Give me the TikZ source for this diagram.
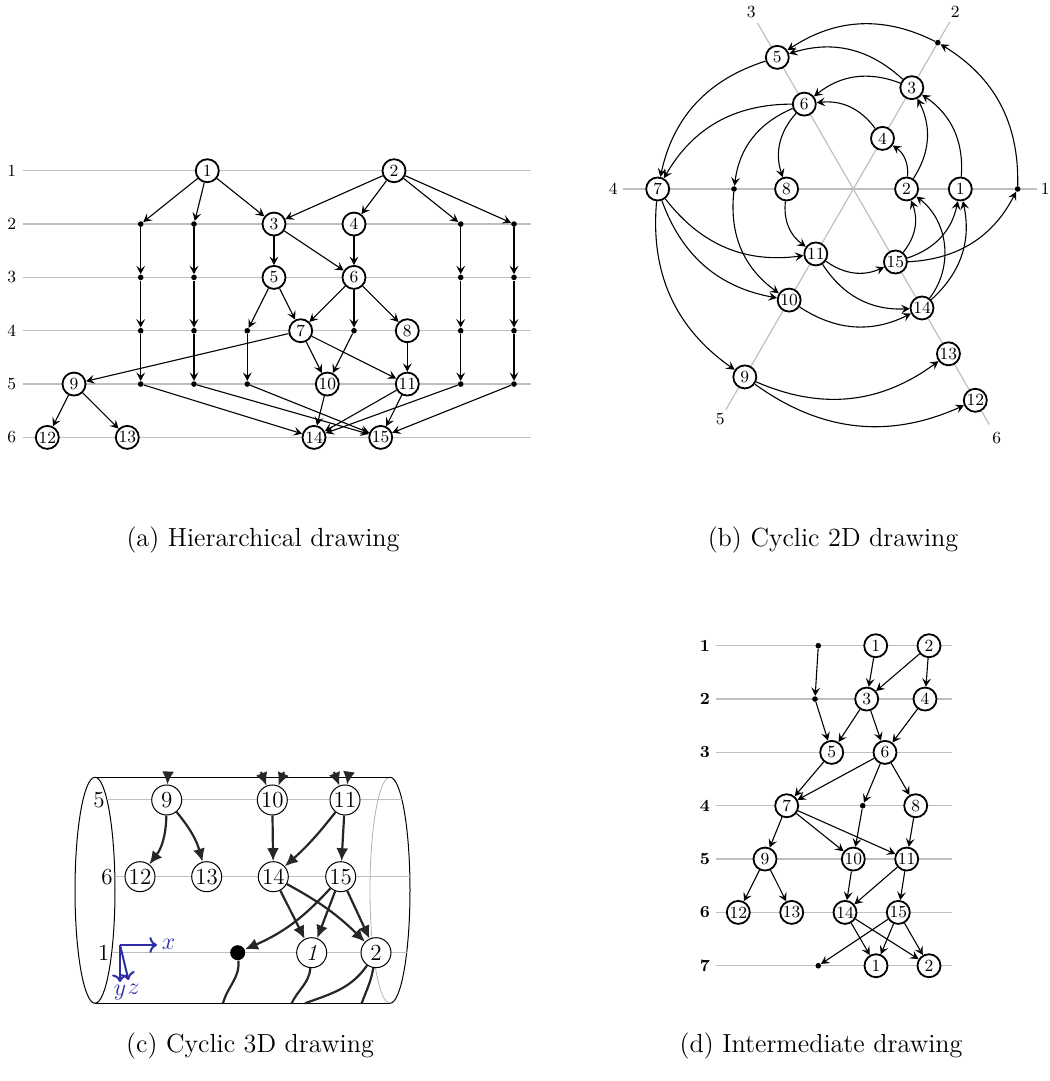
\documentclass[tikz,border=0pt]{standalone}
\usepackage{tikz}
\usetikzlibrary{arrows.meta}

\definecolor{axisblue}{RGB}{45,45,165}

\tikzset{
  vtx/.style={circle, draw, fill=white, line width=0.9pt, inner sep=0pt,
    minimum size=11.5pt, font=\fontsize{8.5}{9}\selectfont},
  dum/.style={circle, fill=black, inner sep=0pt, minimum size=2.8pt},
  layer/.style={black!25, line width=0.6pt},
  lnum/.style={font=\fontsize{8.5}{9}\selectfont},
  edg/.style={-{Stealth[length=4.2pt, width=4.4pt, inset=1.7pt]}, line width=0.55pt},
  subcap/.style={font=\fontsize{13.1}{15}\selectfont},
  % cylinder (3D) styles
  cvtx/.style={circle, draw, fill=white, line width=0.5pt, inner sep=0pt,
    minimum size=15pt, font=\fontsize{11.5}{12}\selectfont},
  cdum/.style={circle, fill=black, inner sep=0pt, minimum size=7.5pt},
  cedge/.style={-{Latex[length=6.5pt,width=6pt]}, line width=1.1pt, black!85},
  cstub/.style={line width=1.1pt, black!85},
  clnum/.style={font=\fontsize{11.5}{12}\selectfont},
}

\begin{document}
\begin{tikzpicture}[x=0.5pt, y=0.5pt]
  \useasboundingbox (0,0) rectangle (1049,1081);

  % ---------------- (a) hierarchical drawing
  \begin{scope}[shift={(0,963.6)}, y=-26.667pt]
    \foreach \k in {1,...,6} {
      \draw[layer] (23,\k) -- (531,\k);
      \node[lnum] at (11.7,\k) {\k};
    }
    \node[vtx] (a1) at (207.3,1) {1};
    \node[vtx] (a2) at (394,1) {2};
    \node[vtx] (a3) at (274,2) {3};
    \node[vtx] (a4) at (354,2) {4};
    \node[vtx] (a5) at (274,3) {5};
    \node[vtx] (a6) at (354,3) {6};
    \node[vtx] (a7) at (300.7,4) {7};
    \node[vtx] (a8) at (407.3,4) {8};
    \node[vtx] (a9) at (74,5) {9};
    \node[vtx] (a10) at (327.3,5) {10};
    \node[vtx] (a11) at (407.3,5) {11};
    \node[vtx] (a12) at (47.3,6) {12};
    \node[vtx] (a13) at (127.3,6) {13};
    \node[vtx] (a14) at (314,6) {14};
    \node[vtx] (a15) at (380.7,6) {15};
    % dummy vertices of long edges
    \foreach \c/\x in {A/140.7, B/194, D/460.7, E/514}
      \foreach \k in {2,...,5}
        \node[dum] (a\c\k) at (\x,\k) {};
    \node[dum] (aC4) at (247.3,4) {};
    \node[dum] (aC5) at (247.3,5) {};
    \node[dum] (aF4) at (354,4) {};

    \foreach \c in {A,B,D,E}
      \foreach \k/\n in {2/3,3/4,4/5}
        \draw[edg] (a\c\k) -- (a\c\n);
    \foreach \s/\t in {a1/aA2, a1/aB2, a1/a3, a2/a3, a2/a4, a2/aD2, a2/aE2,
        aA5/a14, aB5/a15, aD5/a14, aE5/a15, a3/a5, a3/a6, a4/a6,
        a5/aC4, aC4/aC5, aC5/a15, a5/a7, a6/a7, a6/aF4, aF4/a10, a6/a8,
        a7/a9, a7/a10, a7/a11, a8/a11, a9/a12, a9/a13,
        a10/a14, a11/a14, a11/a15}
      \draw[edg] (\s) -- (\t);
  \end{scope}
  \node[subcap] (capa) at (263,541) {(a) Hierarchical drawing};

  % ---------------- (b) cyclic 2D drawing
  \begin{scope}[shift={(853.3,892)}]
    \foreach \a/\r/\l/\lr in {0/183.4/1/192, 60/193/2/204, 120/191.5/3/204,
        180/230.3/4/240, 240/255/5/266, 300/272/6/287} {
      \draw[layer] (0,0) -- (\a:\r);
      \node[lnum] at (\a:\lr) {\l};
    }
    \node[vtx] (b1) at (0:107) {1};
    \node[vtx] (b2) at (0:53.3) {2};
    \node[dum] (bd1) at (0:164.3) {};
    \node[vtx] (b3) at (60:117) {3};
    \node[vtx] (b4) at (60:58.4) {4};
    \node[dum] (bd2) at (60:169) {};
    \node[vtx] (b5) at (120:152) {5};
    \node[vtx] (b6) at (120:98) {6};
    \node[vtx] (b7) at (180:195.6) {7};
    \node[dum] (bd4) at (180:119.3) {};
    \node[vtx] (b8) at (180:66.7) {8};
    \node[vtx] (b9) at (240:217) {9};
    \node[vtx] (b10) at (240:128.3) {10};
    \node[vtx] (b11) at (240:75) {11};
    \node[vtx] (b12) at (300:244) {12};
    \node[vtx] (b13) at (300:190.3) {13};
    \node[vtx] (b14) at (300:137.4) {14};
    \node[vtx] (b15) at (300:84.3) {15};

    \foreach \s/\t in {b1/b3, b2/b3, b2/b4, b3/b5, b3/b6, b4/b6, b5/b7,
        b6/b7, b6/bd4, bd4/b10, b6/b8, b7/b9, b7/b10, b7/b11, b8/b11,
        b9/b12, b9/b13, b10/b14, b11/b14, b11/b15, b14/b1, b15/b1,
        b15/b2, b15/bd1, bd1/bd2, bd2/b5}
      \draw[edg] (\s) to[bend right=30] (\t);
    \draw[edg] (b14) to[bend right=45] (b2);
  \end{scope}
  \node[subcap] (capb) at (833,541) {(b) Cyclic 2D drawing};

  % ---------------- (c) cyclic 3D drawing
  % cylinder
  \draw[line width=0.5pt] (95,190.7) ellipse [x radius=20, y radius=113];
  \draw[black!30, line width=0.4pt] (390,303.7)
    arc[start angle=90, end angle=270, x radius=20, y radius=113];
  \draw[line width=0.5pt] (390,303.7)
    arc[start angle=90, end angle=-90, x radius=20, y radius=113];
  \draw[line width=0.5pt] (95,303.7) -- (390,303.7) (95,77.7) -- (390,77.7);

  \foreach \y/\xa/\xb/\l in {281/107/402/5, 204.3/115/410/6, 128.3/111.7/406.7/1} {
    \draw[black!25, line width=0.5pt] (\xa,\y) -- (\xb,\y);
    \node[clnum, anchor=east, inner sep=1pt] at (\xa,\y) {\l};
  }

  \node[cvtx] (c9) at (166.7,281) {9};
  \node[cvtx] (c10) at (272.3,281) {10};
  \node[cvtx] (c11) at (345,281) {11};
  \node[cvtx] (c12) at (140,204.3) {12};
  \node[cvtx] (c13) at (206.7,204.3) {13};
  \node[cvtx] (c14) at (273.3,204.3) {14};
  \node[cvtx] (c15) at (340.7,204.3) {15};
  \node[cdum] (cd) at (237.7,128.3) {};
  \node[cvtx] (c1) at (311.7,128.3) {\textit{1}};
  \node[cvtx] (c2) at (376,128.3) {2};

  % edges entering from the back of the cylinder
  \coordinate (c9in) at (168,309);
  \coordinate (c10inA) at (261,309);
  \coordinate (c10inB) at (284,309);
  \coordinate (c11inA) at (334,309);
  \coordinate (c11inB) at (349,309);
  \foreach \s/\t in {c9in/c9, c10inA/c10, c10inB/c10, c11inA/c11, c11inB/c11}
    \draw[cedge] (\s) -- (\t);

  \draw[cedge] (c9) to[bend left=18] (c12);
  \draw[cedge] (c9) to[bend left=12] (c13);
  \draw[cedge] (c10) -- (c14);
  \draw[cedge] (c11) to[bend left=5] (c14);
  \draw[cedge] (c11) -- (c15);
  \draw[cedge] (c14) -- (c1);
  \draw[cedge] (c14) to[bend left=8] (c2);
  \draw[cedge] (c15) -- (c1);
  \draw[cedge] (c15) to[bend left=12] (cd);
  \draw[cedge] (c15) -- (c2);

  % edges leaving around the front of the cylinder
  \coordinate (cout1) at (223,77.7);
  \coordinate (cout2) at (291.7,77.7);
  \coordinate (cout3) at (305,77.7);
  \coordinate (cout4) at (361.7,77.7);
  \draw[cstub] (cd) to[out=-85, in=75] (cout1);
  \draw[cstub] (c1) to[out=-95, in=65] (cout2);
  \draw[cstub] (c2) to[out=-125, in=20] (cout3);
  \draw[cstub] (c2) to[out=-100, in=70] (cout4);

  % coordinate axes
  \coordinate (ax0) at (120,136);
  \coordinate (axx) at (157,136);
  \coordinate (axy) at (120,99);
  \coordinate (axz) at (128.5,101);
  \draw[axisblue, line width=1pt, ->] (ax0) -- (axx);
  \draw[axisblue, line width=1pt, ->] (ax0) -- (axy);
  \draw[axisblue, line width=1pt, ->] (ax0) -- (axz);
  \node[axisblue, clnum] (lx) at (168.5,136.5) {$x$};
  \node[axisblue, clnum] (ly) at (120,88) {$y$};
  \node[axisblue, clnum] (lz) at (133.5,92) {$z$};

  \node[subcap] (capc) at (250,35) {(c) Cyclic 3D drawing};

  % ---------------- (d) intermediate drawing
  \begin{scope}[shift={(0,488.6)}, y=-26.667pt]
    \foreach \k in {1,...,7} {
      \draw[layer] (716,\k) -- (951.7,\k);
      \node[lnum] at (705,\k) {\bfseries\k};
    }
    \node[dum] (dd1) at (818.3,1) {};
    \node[vtx] (d1) at (875.7,1) {1};
    \node[vtx] (d2) at (929,1) {2};
    \node[dum] (dd2) at (815,2) {};
    \node[vtx] (d3) at (866.7,2) {3};
    \node[vtx] (d4) at (925,2) {4};
    \node[vtx] (d5) at (831.7,3) {5};
    \node[vtx] (d6) at (885,3) {6};
    \node[vtx] (d7) at (786.7,4) {7};
    \node[dum] (dd4) at (862.7,4) {};
    \node[vtx] (d8) at (915.7,4) {8};
    \node[vtx] (d9) at (765,5) {9};
    \node[vtx] (d10) at (853.3,5) {10};
    \node[vtx] (d11) at (906.7,5) {11};
    \node[vtx] (d12) at (738.3,6) {12};
    \node[vtx] (d13) at (791.7,6) {13};
    \node[vtx] (d14) at (845,6) {14};
    \node[vtx] (d15) at (898.3,6) {15};
    \node[dum] (dd7) at (818.3,7) {};
    \node[vtx] (d1b) at (876,7) {1};
    \node[vtx] (d2b) at (929,7) {2};

    \foreach \s/\t in {dd1/dd2, dd2/d5, d1/d3, d2/d3, d2/d4, d3/d5, d3/d6,
        d4/d6, d5/d7, d6/d7, d6/dd4, d6/d8, dd4/d10, d7/d9, d7/d10, d7/d11,
        d8/d11, d9/d12, d9/d13, d10/d14, d11/d14, d11/d15,
        d14/d1b, d14/d2b, d15/dd7, d15/d1b, d15/d2b}
      \draw[edg] (\s) -- (\t);
  \end{scope}
  \node[subcap] (capd) at (821,35) {(d) Intermediate drawing};
\end{tikzpicture}
\end{document}
